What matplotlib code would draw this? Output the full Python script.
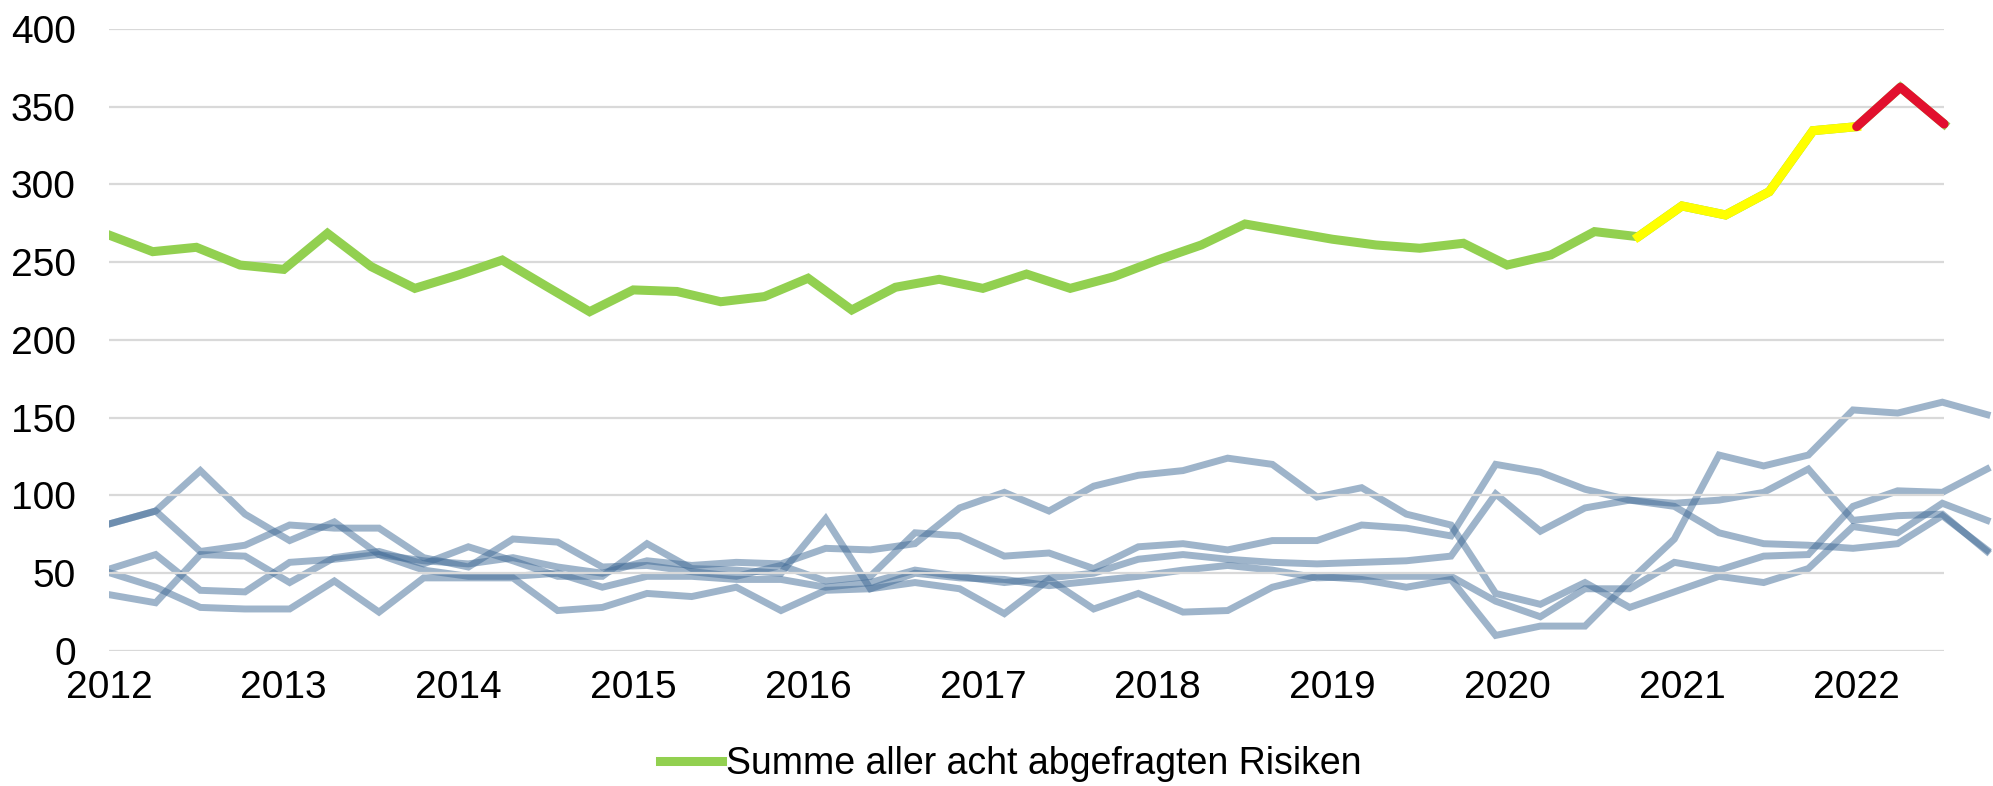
import matplotlib.pyplot as plt
import numpy as np

plt.rcParams["font.family"] = ["Liberation Sans", "DejaVu Sans"]

# quarterly values, 2012 Q1 .. 2022 Q3
total_risk = [
    267.5, 256.8, 259.6, 248.2, 245.4, 268.6, 247.2, 233.2, 241.8, 251.4,
    234.7, 218.2, 232.2, 231.2, 224.6, 227.9, 239.7, 219.3, 233.9, 239.0,
    233.2, 242.4, 233.2, 240.7, 251.4, 261.1, 274.6, 269.7, 264.8, 261.1,
    259.0, 262.2, 248.2, 254.7, 269.7, 266.4, 286.2, 280.4, 295.4, 334.6,
    337.2, 362.5, 338.9,
]
# single risks (background layer, drawn on its own slightly wider time scale)
risk_a = [82, 90, 116, 88, 71, 83, 62, 58, 56, 60, 54, 50, 58, 55, 57, 56,
          66, 65, 69, 92, 102, 90, 106, 113, 116, 124, 120, 99, 105, 88, 81,
          37, 30, 44, 28, 38, 48, 44, 53, 80, 76, 95, 84]
risk_b = [82, 90, 64, 68, 81, 79, 79, 60, 54, 72, 70, 54, 55, 51, 48, 55,
          45, 48, 76, 74, 61, 63, 53, 67, 69, 65, 71, 71, 81, 79, 74,
          120, 115, 104, 97, 93, 76, 69, 68, 66, 69, 87, 65]
risk_c = [53, 62, 39, 38, 57, 59, 62, 52, 48, 48, 50, 41, 48, 48, 46, 46,
          41, 44, 52, 48, 44, 47, 50, 59, 62, 59, 57, 56, 57, 58, 61,
          101, 77, 92, 97, 95, 97, 102, 117, 84, 87, 88, 64]
risk_d = [50, 41, 28, 27, 27, 45, 25, 47, 47, 47, 26, 28, 37, 35, 41, 26,
          39, 40, 44, 40, 24, 46, 27, 37, 25, 26, 41, 48, 46, 41, 46,
          10, 16, 16, 45, 72, 126, 119, 126, 155, 153, 160, 152]
risk_e = [36, 31, 62, 61, 44, 60, 64, 56, 67, 58, 48, 48, 69, 53, 52, 50,
          85, 40, 50, 47, 46, 42, 45, 48, 52, 55, 52, 47, 48, 48, 48,
          32, 22, 40, 40, 57, 52, 61, 62, 93, 103, 102, 117]
single_risks = [risk_a, risk_b, risk_c, risk_d, risk_e]

year_ticks = list(range(2012, 2023))
value_ticks = list(range(0, 401, 50))
legend_label = "Summe aller acht abgefragten Risiken"

t_total = 2012 + np.arange(len(total_risk)) / 4
t_single = 2012 + np.arange(len(risk_a)) / 4

fig = plt.figure(figsize=(19.93, 7.86), dpi=100)
ax = fig.add_axes([109 / 1993, 0.1718, 1 - 109 / 1993, 0.7913])
ax_bg = fig.add_axes(ax.get_position(), sharey=ax, zorder=-1)
ax.set_zorder(1)
ax.patch.set_visible(False)

for series in single_risks:
    ax_bg.plot(t_single, series, color="#3f6a96", alpha=0.5, lw=5,
               solid_joinstyle="miter", zorder=2)
ax_bg.set_xlim(2012 - 2 / 178.7, 2022.5 + 6 / 178.7)
ax_bg.axis("off")

ax.hlines(value_ticks, 2012, t_total[-1], color="#d9d9d9", lw=1.6, zorder=1)
ax.plot(t_total, total_risk, color="#92d050", lw=6.5, zorder=3,
        solid_joinstyle="miter", label=legend_label)
ax.plot(t_total[35:41], total_risk[35:41], color="#ffff00", lw=6.5, zorder=4,
        solid_joinstyle="miter")
ax.plot(t_total[40:], total_risk[40:], color="#e2102e", lw=6.5, zorder=5,
        solid_capstyle="round", solid_joinstyle="round")

ax.set_xlim(2012, 2022.78)
ax.set_ylim(0, 400)
ax.set_xticks(year_ticks)
ax.set_yticks(value_ticks)
ax.tick_params(length=0, labelsize=28)
ax.tick_params(axis="y", pad=24)
ax.tick_params(axis="x", pad=14)
for spine in ax.spines.values():
    spine.set_visible(False)

fig.legend(loc="center", bbox_to_anchor=(0.507, 0.028), frameon=False,
           fontsize=27, handlelength=1.65, handletextpad=0.1)

fig.savefig("out.png", dpi=100)
